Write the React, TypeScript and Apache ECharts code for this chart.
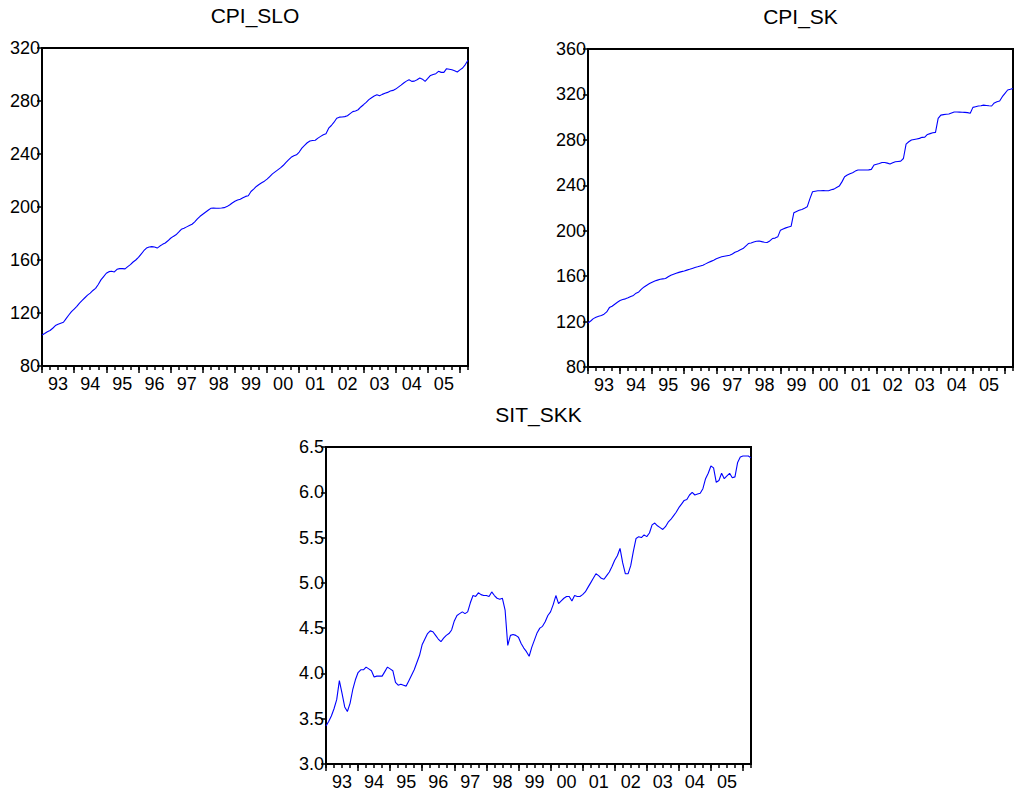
import React, { useEffect, useRef } from "react";
import * as echarts from "echarts";

// Year tick labels (one label centred in each year)
const YEAR_LABELS = ["93", "94", "95", "96", "97", "98", "99", "00", "01", "02", "03", "04", "05"];
const START_YEAR = 1993;
const N_MONTHS = 160; // 1993M01 .. 2006M04

const MONTHS: string[] = [];
for (let i = 0; i < N_MONTHS; i++) {
  const y = START_YEAR + Math.floor(i / 12);
  const m = (i % 12) + 1;
  MONTHS.push(`${y}M${m < 10 ? "0" + m : m}`);
}

const CPI_SLO = [
  103.4, 104.5, 105.8, 106.8, 108.5, 110.5, 111.5, 112.3, 113.0, 115.8, 118.5, 121.0,
  123.0, 125.0, 127.5, 129.5, 131.5, 133.5, 135.0, 137.0, 138.6, 141.5, 145.0, 147.5,
  150.0, 151.2, 151.5, 151.0, 153.0, 153.5, 153.5, 153.3, 155.0, 156.5, 158.5, 160.0,
  162.0, 164.5, 167.0, 169.0, 169.8, 170.1, 169.8, 169.0, 170.5, 171.8, 172.8, 174.5,
  176.4, 177.8, 179.0, 181.0, 183.2, 184.0, 185.0, 186.0, 187.0, 188.8, 191.0, 193.0,
  194.5, 196.0, 197.5, 199.0, 199.2, 199.0, 199.1, 199.2, 199.5, 200.3, 201.5, 203.0,
  204.3, 205.3, 205.9, 207.0, 208.0, 208.5, 211.7, 213.5, 215.5, 217.0, 218.3, 219.5,
  221.0, 223.0, 225.0, 226.5, 228.0, 229.5, 231.3, 233.5, 235.6, 237.5, 238.6, 239.4,
  241.5, 244.4, 246.5, 248.5, 249.8, 250.2, 250.4, 252.0, 253.3, 254.5, 255.3, 259.5,
  261.5, 264.0, 267.0, 267.8, 267.9, 268.2, 268.9, 270.5, 272.0, 272.5, 273.4, 275.5,
  277.2, 279.0, 281.0, 282.5, 283.8, 284.7, 284.0, 285.0, 285.8, 286.5, 287.5, 288.0,
  289.0, 290.5, 292.0, 293.6, 295.0, 296.0, 294.8, 295.0, 296.0, 297.3, 296.5, 294.8,
  297.0, 299.3, 300.0, 300.6, 302.4, 301.6, 301.6, 304.4, 304.0, 303.6, 302.8, 301.9,
  303.5, 304.9, 307.5, 310.7,
];

const CPI_SK = [
  118.8, 120.5, 122.6, 123.8, 124.7, 125.3, 126.5, 128.5, 132.3, 133.5, 135.3, 137.0,
  138.5, 139.4, 140.0, 140.9, 142.0, 143.0, 145.0, 146.1, 148.5, 150.5, 152.0, 153.5,
  154.7, 155.8, 156.5, 157.2, 157.6, 157.9, 159.5, 160.8, 161.7, 162.5, 163.3, 164.0,
  164.6, 165.3, 166.0, 166.8, 167.6, 168.2, 168.9, 169.6, 170.8, 172.0, 173.0, 174.0,
  175.3, 176.2, 177.0, 177.5, 178.0, 178.4, 179.5, 181.0, 182.0, 183.3, 184.3, 186.5,
  188.7, 189.2, 190.0, 190.7, 191.0, 190.4, 189.8, 189.6, 191.0, 193.1, 193.5, 194.6,
  200.5, 201.5, 202.5, 203.3, 204.0, 215.8, 217.0, 218.0, 218.7, 219.8, 221.0, 228.0,
  234.3, 234.8, 235.2, 235.2, 235.3, 235.2, 235.2, 236.0, 236.6, 238.0, 239.3, 243.0,
  247.5, 249.0, 250.2, 251.0, 252.5, 253.4, 253.4, 253.4, 253.4, 253.6, 254.0, 257.8,
  258.5, 259.2, 260.1, 260.0, 259.5, 258.7, 259.8, 260.7, 261.0, 261.3, 263.6, 276.3,
  278.3, 279.8, 280.3, 280.8, 281.3, 282.2, 282.3, 284.8, 285.5, 286.2, 286.6, 298.9,
  301.8, 302.2, 302.5, 302.7, 303.6, 304.5, 304.5, 304.4, 304.3, 304.2, 304.0, 303.5,
  308.6, 309.2, 309.8, 310.0, 310.6, 310.3, 310.0, 309.8, 312.5, 313.6, 314.2, 318.0,
  321.0, 323.9, 324.5, 325.3,
];

const SIT_SKK = [
  3.42, 3.47, 3.53, 3.61, 3.71, 3.92, 3.78, 3.63, 3.58, 3.67, 3.82, 3.93,
  4.01, 4.04, 4.04, 4.07, 4.05, 4.03, 3.96, 3.97, 3.97, 3.97, 4.02, 4.07,
  4.05, 4.03, 3.90, 3.87, 3.88, 3.87, 3.86, 3.92, 3.98, 4.04, 4.12, 4.20,
  4.32, 4.38, 4.44, 4.47, 4.46, 4.42, 4.38, 4.35, 4.39, 4.42, 4.44, 4.48,
  4.58, 4.64, 4.66, 4.68, 4.66, 4.68, 4.78, 4.86, 4.85, 4.89, 4.87, 4.86,
  4.86, 4.85, 4.90, 4.86, 4.83, 4.82, 4.83, 4.70, 4.31, 4.42, 4.43, 4.42,
  4.40, 4.33, 4.28, 4.24, 4.19, 4.29, 4.37, 4.45, 4.50, 4.52, 4.57, 4.64,
  4.68, 4.76, 4.86, 4.77, 4.80, 4.83, 4.85, 4.85, 4.80, 4.86, 4.85, 4.85,
  4.87, 4.90, 4.95, 5.00, 5.05, 5.10, 5.08, 5.05, 5.04, 5.08, 5.12, 5.18,
  5.25, 5.30, 5.38, 5.22, 5.10, 5.10, 5.19, 5.35, 5.49, 5.51, 5.50, 5.53,
  5.51, 5.55, 5.64, 5.66, 5.63, 5.61, 5.59, 5.62, 5.67, 5.70, 5.74, 5.78,
  5.83, 5.87, 5.91, 5.92, 5.97, 6.00, 5.97, 5.98, 5.99, 6.04, 6.15, 6.21,
  6.29, 6.27, 6.11, 6.13, 6.21, 6.15, 6.18, 6.21, 6.16, 6.17, 6.33, 6.39,
  6.40, 6.40, 6.40, 6.38,
];

const TITLES = ["CPI_SLO", "CPI_SK", "SIT_SKK"];
const Y_RANGES = [
  { min: 80, max: 320, interval: 40, digits: 0 },
  { min: 80, max: 360, interval: 40, digits: 0 },
  { min: 3.0, max: 6.5, interval: 0.5, digits: 1 },
];
const SERIES = [CPI_SLO, CPI_SK, SIT_SKK];

const GRIDS = [
  { left: 42, top: 48, width: 426, height: 318 },
  { left: 588, top: 49, width: 425, height: 318 },
  { left: 326, top: 447, width: 425, height: 317 },
];

const FONT = '"Liberation Sans", Arial, sans-serif';

export default function App() {
  const ref = useRef<HTMLDivElement>(null);
  useEffect(() => {
    if (!ref.current) return;
    const chart = echarts.init(ref.current, undefined, { renderer: "svg" });

    const xAxes: any[] = [];
    const yAxes: any[] = [];
    const series: any[] = [];
    const graphics: any[] = [];

    GRIDS.forEach((g, gi) => {
      // main x axis: short quarterly ticks + year labels
      xAxes.push({
        type: "category",
        gridIndex: gi,
        data: MONTHS,
        boundaryGap: false,
        position: "bottom",
        axisLine: { show: false },
        axisTick: {
          show: true,
          interval: (i: number) => i % 3 === 0,
          length: 4,
          lineStyle: { color: "#000", width: 1.5 },
        },
        axisLabel: {
          show: true,
          interval: (i: number) => i % 12 === 6,
          formatter: (_v: string, i: number) => YEAR_LABELS[Math.floor(i / 12)] ?? "",
          color: "#000",
          fontFamily: FONT,
          fontSize: 18,
          margin: 9,
        },
        splitLine: { show: false },
      });
      // second x axis: longer yearly ticks
      xAxes.push({
        type: "category",
        gridIndex: gi,
        data: MONTHS,
        boundaryGap: false,
        position: "bottom",
        axisLine: { show: false },
        axisTick: {
          show: true,
          interval: (i: number) => i % 12 === 0,
          length: 7,
          lineStyle: { color: "#000", width: 1.5 },
        },
        axisLabel: { show: false },
        splitLine: { show: false },
      });
      const yr = Y_RANGES[gi];
      yAxes.push({
        type: "value",
        gridIndex: gi,
        min: yr.min,
        max: yr.max,
        interval: yr.interval,
        axisLine: { show: false },
        axisTick: { show: true, length: 5, lineStyle: { color: "#000", width: 1.5 } },
        axisLabel: {
          color: "#000",
          fontFamily: FONT,
          fontSize: 18,
          margin: 2,
          formatter: (v: number) => v.toFixed(yr.digits),
        },
        splitLine: { show: false },
      });
      series.push({
        type: "line",
        xAxisIndex: gi * 2,
        yAxisIndex: gi,
        data: SERIES[gi],
        showSymbol: false,
        symbol: "none",
        lineStyle: { color: "#0000FF", width: 1.1 },
      });
      graphics.push({
        type: "text",
        x: g.left + g.width / 2,
        y: g.top - 33,
        style: {
          text: TITLES[gi],
          fill: "#000",
          fontFamily: FONT,
          fontSize: 21,
          textAlign: "center",
          textVerticalAlign: "middle",
        },
      });
    });

    chart.setOption({
      animation: false,
      backgroundColor: "#fff",
      grid: GRIDS.map((g) => ({
        ...g,
        show: true,
        borderColor: "#000",
        borderWidth: 2,
        backgroundColor: "transparent",
        containLabel: false,
      })),
      xAxis: xAxes,
      yAxis: yAxes,
      series,
      graphic: graphics,
    });
    return () => chart.dispose();
  }, []);
  return (
    <div
      ref={ref}
      style={{ position: "absolute", left: 0, top: 0, width: 1014, height: 796, background: "#fff" }}
    />
  );
}
